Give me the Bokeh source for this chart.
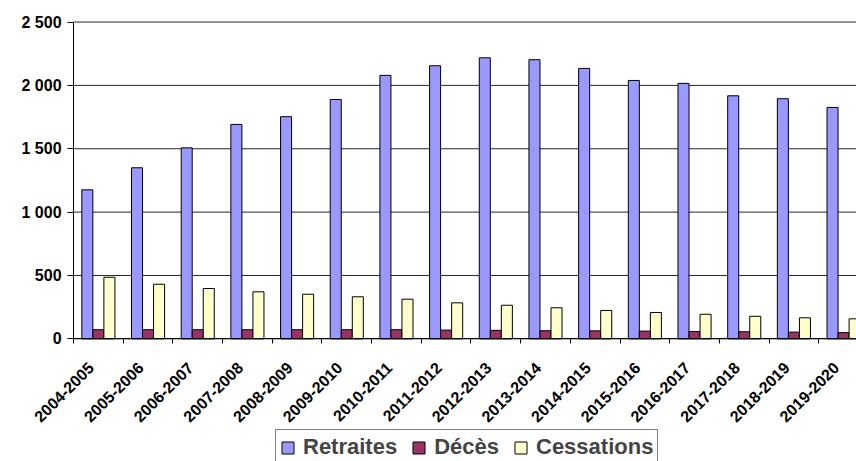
import math
from bokeh.plotting import figure
from bokeh.models import (ColumnDataSource, Range1d, FixedTicker, CustomJSTickFormatter,
                          Legend, LegendItem)
from bokeh.transform import dodge
from bokeh.embed import file_html
from bokeh.resources import INLINE

periods = ["2004-2005", "2005-2006", "2006-2007", "2007-2008", "2008-2009", "2009-2010",
           "2010-2011", "2011-2012", "2012-2013", "2013-2014", "2014-2015", "2015-2016",
           "2016-2017", "2017-2018", "2018-2019", "2019-2020"]
retraites = [1176, 1350, 1507, 1692, 1753, 1889, 2079, 2155, 2218, 2203, 2134, 2039, 2016, 1918, 1895, 1826]
deces = [72, 72, 72, 72, 72, 72, 72, 69, 67, 64, 63, 61, 58, 56, 53, 49]
cessations = [486, 431, 397, 371, 352, 332, 313, 284, 265, 245, 224, 208, 194, 178, 166, 158]
y_ticks = [0, 500, 1000, 1500, 2000, 2500]
y_tick_labels = ["0", "500", "1 000", "1 500", "2 000", "2 500"]

FONT = "Liberation Sans"
N = len(periods)

src = ColumnDataSource(dict(
    x=[i + 0.5 for i in range(N)],
    period=periods, retraites=retraites, deces=deces, cessations=cessations))

# The frame covers the whole canvas; both axes are pinned at 0 so that the
# rotated labels and the legend are not clipped by a narrower frame.
p = figure(width=856, height=461, output_backend="svg", toolbar_location=None,
           x_range=Range1d(-1.47, 15.76), y_range=Range1d(-968, 2670),
           min_border_left=0, min_border_top=0, min_border_right=0, min_border_bottom=0)
p.outline_line_color = None
p.xgrid.visible = False
p.ygrid.visible = False

# horizontal grid lines, from the first to the last category boundary
grid_src = ColumnDataSource(dict(y=y_ticks, x0=[0] * len(y_ticks), x1=[N] * len(y_ticks)))
p.segment(x0="x0", x1="x1", y0="y", y1="y", source=grid_src,
          line_color="black", line_width=1, line_alpha=0.85, level="underlay")

bw = 0.222
r1 = p.vbar(x=dodge("x", -bw, range=p.x_range), top="retraites", width=bw, source=src,
            fill_color="#9999FF", line_color="black", line_width=1)
r2 = p.vbar(x=dodge("x", 0, range=p.x_range), top="deces", width=bw, source=src,
            fill_color="#993366", line_color="black", line_width=1)
r3 = p.vbar(x=dodge("x", bw, range=p.x_range), top="cessations", width=bw, source=src,
            fill_color="#FFFFCC", line_color="black", line_width=1)

# x axis
label_shift = 0.15
xa = p.xaxis[0]
xa.fixed_location = 0
xa.bounds = (0, N)
xa.ticker = FixedTicker(ticks=[i + 0.5 - label_shift for i in range(N)],
                        minor_ticks=list(range(N + 1)))
xa.formatter = CustomJSTickFormatter(args=dict(labels=periods),
                                     code="const i = Math.floor(tick); return labels[i] || '';")
xa.major_tick_line_color = None
xa.major_tick_out = 6
xa.minor_tick_line_color = "black"
xa.minor_tick_out = 5
xa.minor_tick_in = 0
xa.axis_line_color = "black"
xa.major_label_orientation = math.pi / 4
xa.major_label_text_font = FONT
xa.major_label_text_font_style = "bold"
xa.major_label_text_font_size = "16px"
xa.major_label_text_color = "black"
xa.major_label_standoff = 20

# y axis
ya = p.yaxis[0]
ya.fixed_location = 0
ya.bounds = (0, 2500)
ya.ticker = FixedTicker(ticks=y_ticks, minor_ticks=[])
ya.formatter = CustomJSTickFormatter(args=dict(vals=y_ticks, labels=y_tick_labels),
                                     code="const i = vals.indexOf(Math.round(tick)); return i >= 0 ? labels[i] : '';")
ya.major_tick_out = 6
ya.major_tick_in = 0
ya.major_tick_line_color = "black"
ya.axis_line_color = "black"
ya.major_label_text_font = FONT
ya.major_label_text_font_style = "bold"
ya.major_label_text_font_size = "16px"
ya.major_label_text_color = "black"
ya.major_label_standoff = 6

legend = Legend(items=[LegendItem(label="Retraites", renderers=[r1]),
                       LegendItem(label="Décès", renderers=[r2]),
                       LegendItem(label="Cessations", renderers=[r3])],
                location=(275, -4), orientation="horizontal")
legend.border_line_color = "black"
legend.border_line_width = 1
legend.background_fill_color = "white"
legend.background_fill_alpha = 1
legend.label_text_font = FONT
legend.label_text_font_style = "bold"
legend.label_text_font_size = "22px"
legend.glyph_width = 15
legend.glyph_height = 15
legend.label_standoff = 8
legend.spacing = 14
legend.padding = 4
legend.margin = 0
p.add_layout(legend)

open("out.html", "w").write(file_html(p, INLINE))
